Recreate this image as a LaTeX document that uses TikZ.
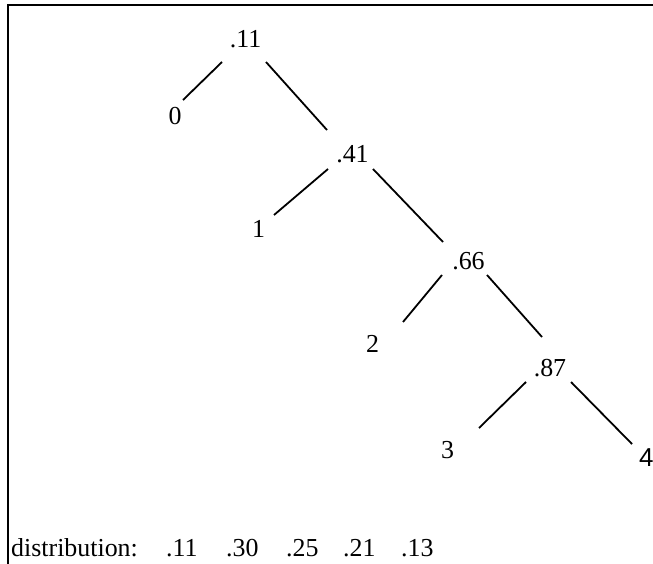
\documentclass[tikz,border=0pt]{standalone}
\usepackage{fontspec}
\setmainfont{Liberation Serif}
\newfontfamily\labelsans{Liberation Sans}
\tikzset{
  lbl/.style={inner sep=0pt, anchor=base, font=\fontsize{26}{30}\selectfont},
  edge/.style={line width=1.8bp},
  frame/.style={line width=2bp}
}
\begin{document}
\begin{tikzpicture}[x=1bp, y=-1bp]
  \useasboundingbox (0,0) rectangle (653,564);
  % open frame: top and left sides only
  \coordinate (fr) at (653,5);
  \coordinate (fc) at (8,5);
  \coordinate (fb) at (8,564);
  \draw[frame] (fr) -- (fc) -- (fb);

  % tree labels
  \node[lbl] (n11) at (245.5,48) {.11};
  \node[lbl] (n0)  at (175,125) {0};
  \node[lbl] (n41) at (352.5,163) {.41};
  \node[lbl] (n1)  at (258.5,237) {1};
  \node[lbl] (n66) at (468.5,269) {.66};
  \node[lbl] (n2)  at (372.5,352) {2};
  \node[lbl] (n87) at (550,376) {.87};
  \node[lbl] (n3)  at (447.5,458) {3};
  \node[lbl, anchor=base west, font=\labelsans\fontsize{26}{30}\selectfont] (n4) at (639,466) {4};

  % branches
  \draw[edge] ([shift={(-23.5,14)}]n11.base) -- ([shift={(8,-25)}]n0.base);
  \draw[edge] ([shift={(20.5,14)}]n11.base) -- ([shift={(-25.5,-33)}]n41.base);
  \draw[edge] ([shift={(-24.5,6)}]n41.base) -- ([shift={(15.5,-22)}]n1.base);
  \draw[edge] ([shift={(20.5,6)}]n41.base) -- ([shift={(-25.5,-27)}]n66.base);
  \draw[edge] ([shift={(-26.5,6)}]n66.base) -- ([shift={(30.5,-30)}]n2.base);
  \draw[edge] ([shift={(18.5,6)}]n66.base) -- ([shift={(-8,-39)}]n87.base);
  \draw[edge] ([shift={(-24,6)}]n87.base) -- ([shift={(31.5,-30)}]n3.base);
  \draw[edge] ([shift={(21,6)}]n87.base) -- ([shift={(-7,-22)}]n4.base west);

  % distribution line
  \node[lbl, anchor=base west] (dist) at (11,556) {distribution:};
  \node[lbl, anchor=base west] (p0) at (166,556) {.11};
  \node[lbl, anchor=base west] (p1) at (226,556) {.30};
  \node[lbl, anchor=base west] (p2) at (286,556) {.25};
  \node[lbl, anchor=base west] (p3) at (343,556) {.21};
  \node[lbl, anchor=base west] (p4) at (401,556) {.13};
\end{tikzpicture}
\end{document}
